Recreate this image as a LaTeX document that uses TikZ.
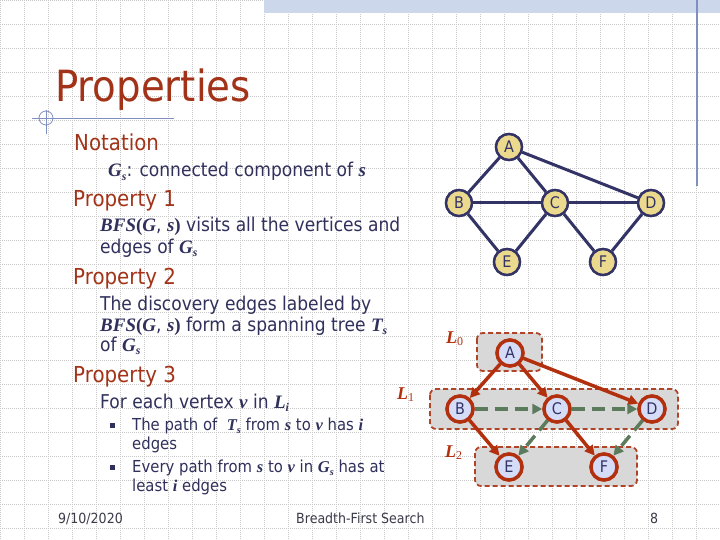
\documentclass[tikz,border=0pt]{standalone}
\usepackage{fontspec}
\setmainfont{DejaVu Sans}[FakeStretch=0.9]
\newfontfamily\tnr{Liberation Serif}
\usetikzlibrary{arrows.meta}
\definecolor{navy}{HTML}{333366}
\definecolor{txt}{HTML}{30305C}
\definecolor{khaki}{HTML}{EBD98D}
\definecolor{lav}{HTML}{D5DCF8}
\definecolor{tred}{HTML}{B3300F}
\definecolor{ttl}{HTML}{A33318}
\definecolor{grn}{HTML}{5C7A5C}
\definecolor{boxf}{HTML}{D8D8D8}
\definecolor{boxd}{HTML}{B04428}
\definecolor{gridc}{HTML}{C8C8C8}
\definecolor{barc}{HTML}{CCD7EC}
\definecolor{deco}{HTML}{7F8FBF}
\definecolor{foot}{HTML}{3A3A48}
\makeatletter
\newcommand\subsc[1]{\raisebox{-0.35ex}{\fontsize{\fpeval{0.62*\f@size}}{\fpeval{0.62*\f@size}}\selectfont #1}}
\makeatother
\newcommand\bi[1]{{\tnr\bfseries\itshape #1}}
\newcommand\Gs{\bi{G}\subsc{\bi{s}}}
\newcommand\Ts{\bi{T}\subsc{\bi{s}}}
\newcommand\bfsGs{\bi{BFS}{\tnr\bfseries(}\bi{G}, \bi{s}{\tnr\bfseries)}}
\newcommand\lsub[1]{\raisebox{-0.25ex}{\fontsize{12}{12}\selectfont\tnr #1}}
\tikzset{
  head/.style={anchor=base west, inner sep=0, text=ttl, font=\fontsize{22}{22}\selectfont},
  body/.style={anchor=base west, inner sep=0, text=txt, font=\fontsize{19}{19}\selectfont},
  small/.style={anchor=base west, inner sep=0, text=txt, font=\fontsize{16.5}{16.5}\selectfont},
  footer/.style={anchor=base west, inner sep=0, text=foot, font=\fontsize{14}{14}\selectfont},
  tnode/.style={circle, draw=navy, line width=2.4pt, fill=khaki, minimum size=26pt, inner sep=0, text=navy, font=\fontsize{16}{16}\selectfont},
  bnode/.style={circle, draw=tred, line width=3.4pt, fill=lav, minimum size=26pt, inner sep=0, text=navy, font=\fontsize{16}{16}\selectfont},
  tedge/.style={draw=navy, line width=3pt},
  tree/.style={draw=tred, line width=3.5pt, -{Triangle[length=10pt,width=10pt]}},
  cross/.style={draw=grn, line width=3.5pt, dash pattern=on 13pt off 7pt, -{Triangle[length=10pt,width=10pt]}},
  layer/.style={draw=boxd, fill=boxf, line width=1.8pt, dash pattern=on 5pt off 3pt, rounded corners=6pt},
  llabel/.style={anchor=base west, inner sep=0, text=tred, font=\fontsize{18}{18}\selectfont},
  bul/.style={fill=txt, minimum size=5pt, inner sep=0}
}
\begin{document}
\begin{tikzpicture}[x=1pt,y=-1pt]
\useasboundingbox (0,0) rectangle (720,540);
\fill[white] (0,0) rectangle (720,540);
% grid
\foreach \i in {0,24,...,720} \draw[gridc, line width=0.6pt, dash pattern=on 1pt off 1pt] (\i,0) -- (\i,540);
\foreach \j in {0,24,...,528} \draw[gridc, line width=0.6pt, dash pattern=on 1pt off 1pt] (0,\j) -- (720,\j);
% top bar and decorations
\fill[barc] (264,0) rectangle (720,12.7);
\draw[deco, line width=1.2pt] (697,0) -- (697,186);
\draw[deco, line width=1pt] (32,119) -- (174,119);
\draw[deco, line width=0.8pt] (46,118) circle (7);
\draw[deco, line width=0.8pt] (46,110) -- (46,134);
% title
\node[anchor=base west, inner sep=0, text=ttl, font=\fontsize{43}{43}\selectfont] (title) at (55,102) {Properties};
% text
\node[head] (n1) at (74,151) {Notation};
\node[body] (n2) at (108,177) {\Gs: connected component of \bi{s}};
\node[head] (p1) at (73,207) {Property 1};
\node[body] (p1a) at (100,232) {\bfsGs{} visits all the vertices and};
\node[body] (p1b) at (100,253) {edges of \Gs};
\node[head] (p2) at (73,284) {Property 2};
\node[body] (p2a) at (100,310) {The discovery edges labeled by};
\node[body] (p2b) at (100,331) {\bfsGs{} form a spanning tree \Ts};
\node[body] (p2c) at (100,351) {of \Gs};
\node[head] (p3) at (73,382) {Property 3};
\node[body] (p3a) at (100,408) {For each vertex \bi{v} in \bi{L}\subsc{\bi{i}}};
\node[bul] (b1) at (112.5,425.5) {};
\node[small] (p3b) at (132,430) {The path of \ \Ts{} from \bi{s} to \bi{v} has \bi{i}};
\node[small] (p3c) at (132,449) {edges};
\node[bul] (b2) at (112.5,467.5) {};
\node[small] (p3d) at (132,472) {Every path from \bi{s} to \bi{v} in \Gs{} has at};
\node[small] (p3e) at (132,491) {least \bi{i} edges};
% footer
\node[footer] (date) at (58,523) {9/10/2020};
\node[footer] (ftitle) at (296,523) {Breadth-First Search};
\node[footer] (page) at (650,523) {8};
% top graph
\node[tnode] (A) at (509,147) {A};
\node[tnode] (B) at (459,203) {B};
\node[tnode] (C) at (555,203) {C};
\node[tnode] (D) at (651,203) {D};
\node[tnode] (E) at (507,262) {E};
\node[tnode] (F) at (603,262) {F};
\draw[tedge] (A) -- (B);
\draw[tedge] (A) -- (C);
\draw[tedge] (A) -- (D);
\draw[tedge] (B) -- (C);
\draw[tedge] (C) -- (D);
\draw[tedge] (B) -- (E);
\draw[tedge] (C) -- (E);
\draw[tedge] (C) -- (F);
\draw[tedge] (D) -- (F);
\node[tnode] at (A) {A};
\node[tnode] at (B) {B};
\node[tnode] at (C) {C};
\node[tnode] at (D) {D};
\node[tnode] at (E) {E};
\node[tnode] at (F) {F};
% bottom graph: layers
\draw[layer] (477,333) rectangle (542,371);
\draw[layer] (430,389) rectangle (678,429);
\draw[layer] (475,447) rectangle (637,486);
\node[llabel] (L0) at (446,343) {\bi{L}\lsub{0}};
\node[llabel] (L1) at (397,399) {\bi{L}\lsub{1}};
\node[llabel] (L2) at (445,457) {\bi{L}\lsub{2}};
\node[bnode] (a) at (510,353) {A};
\node[bnode] (b) at (460,409) {B};
\node[bnode] (c) at (557,409) {C};
\node[bnode] (d) at (652,409) {D};
\node[bnode] (e) at (509,467) {E};
\node[bnode] (f) at (604,467) {F};
\draw[tree] (a) -- (b);
\draw[tree] (a) -- (c);
\draw[tree] (a) -- (d);
\draw[tree] (b) -- (e);
\draw[tree] (c) -- (f);
\draw[cross] (b) -- (c);
\draw[cross] (c) -- (d);
\draw[cross] (c) -- (e);
\draw[cross] (d) -- (f);
\node[bnode] at (a) {A};
\node[bnode] at (b) {B};
\node[bnode] at (c) {C};
\node[bnode] at (d) {D};
\node[bnode] at (e) {E};
\node[bnode] at (f) {F};
\end{tikzpicture}
\end{document}
